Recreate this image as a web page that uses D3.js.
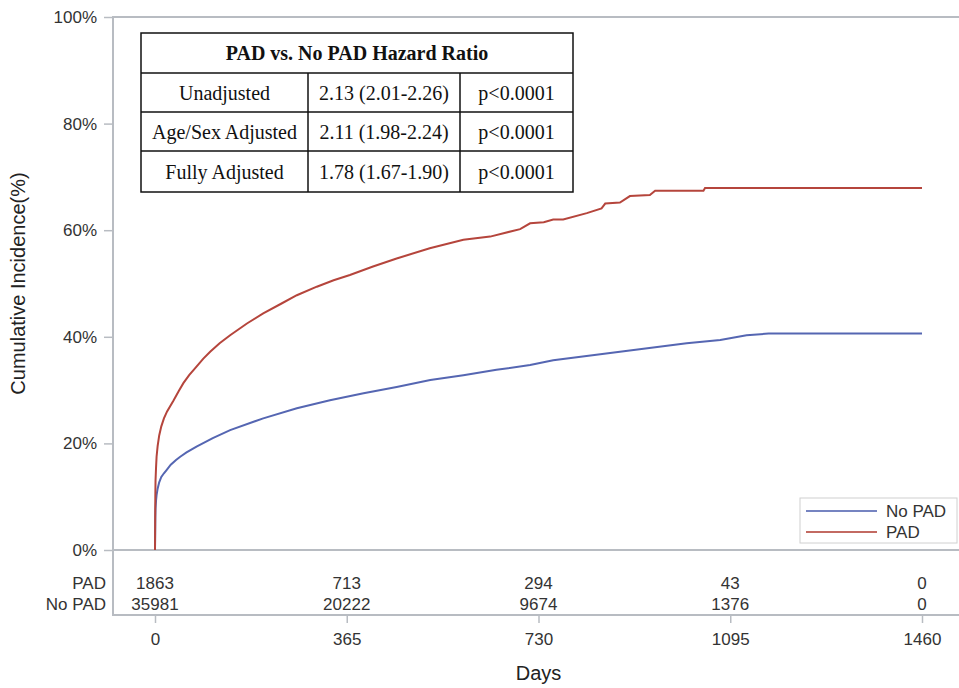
<!DOCTYPE html>
<html>
<head>
<meta charset="utf-8">
<script src="https://cdn.jsdelivr.net/npm/d3@7/dist/d3.min.js"></script>
<style>
  html, body { margin: 0; padding: 0; background: #fff; }
  svg { display: block; }
</style>
</head>
<body>
<svg id="chart" width="959" height="688"></svg>
<script>
// Cumulative incidence (%) by day, Kaplan–Meier style estimates
const padDays = [0, 0.3, 0.6, 1, 2, 3, 5, 8, 12, 17, 23, 35, 45, 54, 65, 79, 92, 105, 123, 143, 175, 206, 240, 270, 308, 340, 371, 415, 460, 523, 587, 638, 695, 714, 740, 758, 777, 822, 850, 857, 885, 904, 942, 952, 1044, 1047, 1460];
const padPct  = [0, 5, 10, 13, 15.5, 17.5, 19.5, 21.5, 23.2, 24.7, 26, 28, 29.8, 31.3, 32.8, 34.4, 35.9, 37.2, 38.8, 40.3, 42.5, 44.4, 46.2, 47.8, 49.4, 50.6, 51.6, 53.2, 54.7, 56.6, 58.2, 58.8, 60.2, 61.3, 61.5, 62.0, 62.0, 63.2, 64.1, 65.0, 65.2, 66.4, 66.6, 67.4, 67.4, 67.9, 67.9];

const noPadDays = [0, 0.3, 0.6, 1, 2, 3, 5, 8, 12, 17, 22, 30, 40, 48, 60, 79, 110, 143, 206, 270, 333, 397, 460, 524, 587, 650, 714, 758, 885, 1012, 1076, 1126, 1168, 1460];
const noPadPct  = [0, 3, 6, 7.8, 9.3, 10.3, 11.5, 12.7, 13.7, 14.4, 15.0, 16.0, 16.9, 17.5, 18.3, 19.4, 21.0, 22.5, 24.7, 26.6, 28.1, 29.4, 30.6, 31.9, 32.8, 33.8, 34.7, 35.6, 37.2, 38.8, 39.4, 40.3, 40.6, 40.6];

// Axis ticks
const dayTicks = [0, 365, 730, 1095, 1460];
const pctTicks = [0, 20, 40, 60, 80, 100];

// Number at risk at each day tick
const atRiskPad   = [1863, 713, 294, 43, 0];
const atRiskNoPad = [35981, 20222, 9674, 1376, 0];

// Hazard ratio table
const hrHeader = "PAD vs. No PAD Hazard Ratio";
const hrLabels = ["Unadjusted", "Age/Sex Adjusted", "Fully Adjusted"];
const hrValues = ["2.13 (2.01-2.26)", "2.11 (1.98-2.24)", "1.78 (1.67-1.90)"];
const hrPvals  = ["p<0.0001", "p<0.0001", "p<0.0001"];

const colorNoPad = "#5566b2";
const colorPad = "#b5453c";
const axisGray = "#b8bcc2";
const textGray = "#333";
const sans = "'Liberation Sans', Arial, sans-serif";
const serif = "'Liberation Serif', 'Times New Roman', serif";

const svg = d3.select("#chart");
const W = 959;

const x = d3.scaleLinear().domain([0, 1460]).range([155, 922]);
const y = d3.scaleLinear().domain([0, 100]).range([550, 17]);

const axisX = 113;      // left axis line
const bottomY = 615;    // bottom axis line (below the at-risk table)

// Frame lines
const frame = svg.append("g").attr("stroke", axisGray).attr("stroke-width", 2);
frame.append("line").attr("x1", axisX).attr("x2", W).attr("y1", y(100)).attr("y2", y(100));
frame.append("line").attr("x1", axisX).attr("x2", W).attr("y1", y(0)).attr("y2", y(0));
frame.append("line").attr("x1", axisX).attr("x2", W).attr("y1", bottomY).attr("y2", bottomY);
frame.append("line").attr("x1", axisX).attr("x2", axisX).attr("y1", y(100) - 1).attr("y2", bottomY + 1);

// Y axis
const yAxis = svg.append("g")
  .attr("transform", `translate(${axisX},0)`)
  .call(d3.axisLeft(y).tickValues(pctTicks).tickFormat(d => d + "%").tickSize(9).tickPadding(7));
yAxis.select(".domain").remove();
yAxis.selectAll("line").attr("stroke", axisGray).attr("stroke-width", 1.5);
yAxis.selectAll("text").attr("font-family", sans).attr("font-size", 17).attr("fill", textGray);

// X axis
const xAxis = svg.append("g")
  .attr("transform", `translate(0,${bottomY})`)
  .call(d3.axisBottom(x).tickValues(dayTicks).tickFormat(d3.format("d")).tickSize(8).tickPadding(10));
xAxis.select(".domain").remove();
xAxis.selectAll("line").attr("stroke", axisGray).attr("stroke-width", 1.5);
xAxis.selectAll("text").attr("font-family", sans).attr("font-size", 17).attr("fill", textGray);

// Axis titles
svg.append("text")
  .attr("x", x(730)).attr("y", 680)
  .attr("text-anchor", "middle")
  .attr("font-family", sans).attr("font-size", 20).attr("fill", "#222")
  .text("Days");
svg.append("text")
  .attr("transform", `translate(25,${(y(0) + y(100)) / 2}) rotate(-90)`)
  .attr("text-anchor", "middle")
  .attr("font-family", sans).attr("font-size", 20).attr("fill", "#222")
  .text("Cumulative Incidence(%)");

// Curves
const line = d3.line().x(d => x(d[0])).y(d => y(d[1])).curve(d3.curveLinear);
const padPts = padDays.map((d, i) => [d, padPct[i]]);
const noPadPts = noPadDays.map((d, i) => [d, noPadPct[i]]);

svg.append("path").datum(noPadPts)
  .attr("d", line).attr("fill", "none")
  .attr("stroke", colorNoPad).attr("stroke-width", 2);
svg.append("path").datum(padPts)
  .attr("d", line).attr("fill", "none")
  .attr("stroke", colorPad).attr("stroke-width", 2);

// Number-at-risk rows
const riskRows = [
  { label: "PAD", values: atRiskPad, yc: 583 },
  { label: "No PAD", values: atRiskNoPad, yc: 604 }
];
riskRows.forEach(r => {
  svg.append("text")
    .attr("x", 106).attr("y", r.yc).attr("dy", "0.36em")
    .attr("text-anchor", "end")
    .attr("font-family", sans).attr("font-size", 17).attr("fill", textGray)
    .text(r.label);
  svg.append("g").selectAll("text").data(r.values).join("text")
    .attr("x", (d, i) => x(dayTicks[i])).attr("y", r.yc).attr("dy", "0.36em")
    .attr("text-anchor", "middle")
    .attr("font-family", sans).attr("font-size", 17).attr("fill", textGray)
    .text(d => d);
});

// Legend
const lg = svg.append("g");
lg.append("rect").attr("x", 800).attr("y", 498).attr("width", 157).attr("height", 45)
  .attr("fill", "#fff").attr("stroke", "#d0d0d0").attr("stroke-width", 1);
[["No PAD", colorNoPad, 511], ["PAD", colorPad, 532]].forEach(([name, c, ly]) => {
  lg.append("line").attr("x1", 806).attr("x2", 877).attr("y1", ly).attr("y2", ly)
    .attr("stroke", c).attr("stroke-width", 2).attr("opacity", 0.8);
  lg.append("text").attr("x", 886).attr("y", ly).attr("dy", "0.36em")
    .attr("font-family", sans).attr("font-size", 17).attr("fill", textGray).text(name);
});

// Hazard ratio table
const tb = { x0: 141, x1: 573, y0: 33, cols: [141, 308, 460, 573], rows: [33, 73, 112, 151, 192] };
const tg = svg.append("g");
tg.append("rect").attr("x", tb.x0).attr("y", tb.y0)
  .attr("width", tb.x1 - tb.x0).attr("height", tb.rows[4] - tb.y0)
  .attr("fill", "#fff").attr("stroke", "#111").attr("stroke-width", 1.5);
tb.rows.slice(1, 4).forEach(ry => {
  tg.append("line").attr("x1", tb.x0).attr("x2", tb.x1).attr("y1", ry).attr("y2", ry)
    .attr("stroke", "#111").attr("stroke-width", 1.5);
});
[tb.cols[1], tb.cols[2]].forEach(cx => {
  tg.append("line").attr("x1", cx).attr("x2", cx).attr("y1", tb.rows[1]).attr("y2", tb.rows[4])
    .attr("stroke", "#111").attr("stroke-width", 1.5);
});
tg.append("text")
  .attr("x", (tb.x0 + tb.x1) / 2).attr("y", (tb.rows[0] + tb.rows[1]) / 2).attr("dy", "0.35em")
  .attr("text-anchor", "middle").attr("font-family", serif).attr("font-weight", "bold")
  .attr("font-size", 20).attr("fill", "#111").text(hrHeader);
hrLabels.forEach((lab, i) => {
  const cy = (tb.rows[i + 1] + tb.rows[i + 2]) / 2;
  [lab, hrValues[i], hrPvals[i]].forEach((t, j) => {
    tg.append("text")
      .attr("x", (tb.cols[j] + tb.cols[j + 1]) / 2).attr("y", cy).attr("dy", "0.35em")
      .attr("text-anchor", "middle").attr("font-family", serif)
      .attr("font-size", 20).attr("fill", "#111").text(t);
  });
});
</script>
</body>
</html>
